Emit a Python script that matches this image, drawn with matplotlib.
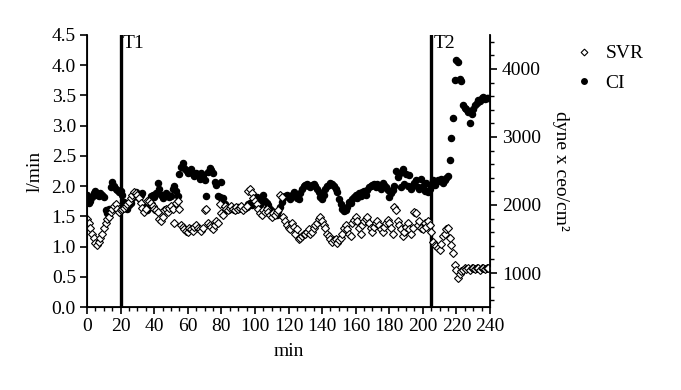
import numpy as np
import matplotlib.pyplot as plt

plt.rcParams['font.family'] = ['Liberation Serif', 'DejaVu Serif']

# sampling time (min), one reading per minute
minutes = np.arange(0, 240)

# cardiac index, l/min (left axis)
ci = [
    1.85, 1.72, 1.76, 1.82, 1.88, 1.92, 1.86, 1.84, 1.88, 1.85,
    1.82, 1.60, 1.56, 1.62, 1.98, 2.07, 2.00, 1.96, 1.93, 1.90,
    1.92, 1.86, 1.74, 1.66, 1.62, 1.68, 1.72, 1.80, 1.86, 1.90,
    1.84, 1.80, 1.86, 1.88, 1.70, 1.62, 1.60, 1.66, 1.84, 1.86,
    1.82, 1.88, 2.05, 1.96, 1.86, 1.80, 1.84, 1.88, 1.86, 1.82,
    1.84, 1.96, 2.00, 1.92, 1.84, 2.20, 2.32, 2.38, 2.30, 2.26,
    2.22, 2.25, 2.28, 2.20, 2.16, 2.22, 2.18, 2.12, 2.22, 2.18,
    2.10, 1.84, 2.24, 2.30, 2.26, 2.22, 2.06, 2.02, 1.84, 1.82,
    2.06, 1.80, 1.70, 1.64, 1.60, 1.62, 1.65, 1.63, 1.60, 1.62,
    1.65, 1.63, 1.66, 1.62, 1.64, 1.66, 1.70, 1.72, 1.68, 1.74,
    1.78, 1.82, 1.76, 1.70, 1.80, 1.85, 1.76, 1.72, 1.68, 1.62,
    1.58, 1.54, 1.55, 1.52, 1.58, 1.66, 1.74, 1.80, 1.84, 1.86,
    1.82, 1.78, 1.86, 1.90, 1.84, 1.80, 1.78, 1.88, 1.95, 2.00,
    2.02, 2.04, 2.00, 1.98, 2.02, 2.03, 2.00, 1.96, 1.90, 1.82,
    1.78, 1.86, 1.95, 2.00, 2.02, 2.05, 2.03, 2.00, 1.96, 1.90,
    1.78, 1.70, 1.62, 1.58, 1.60, 1.66, 1.74, 1.72, 1.78, 1.82,
    1.85, 1.80, 1.88, 1.84, 1.90, 1.92, 1.86, 1.94, 1.98, 2.00,
    2.02, 2.04, 1.98, 2.03, 2.00, 1.96, 2.05, 2.02, 1.98, 1.94,
    1.82, 1.88, 1.94, 2.00, 2.25, 2.15, 2.20, 1.98, 2.28, 2.04,
    2.20, 2.00, 2.18, 1.96, 2.02, 2.05, 2.10, 1.98, 1.95, 2.12,
    2.00, 1.92, 2.05, 1.90, 1.95, 2.02, 2.10, 2.02, 2.06, 2.10,
    2.08, 2.12, 2.05, 2.10, 2.14, 2.16, 2.43, 2.80, 3.13, 3.75,
    4.08, 4.05, 3.78, 3.74, 3.35, 3.30, 3.28, 3.22, 3.05, 3.20,
    3.28, 3.35, 3.38, 3.42, 3.40, 3.45, 3.48, 3.44, 3.46, 3.45,
]

# systemic vascular resistance, dyne x ceo/cm2 (right axis)
svr = [
    1790, 1730, 1660, 1580, 1510, 1440, 1410, 1460, 1520, 1580,
    1660, 1730, 1790, 1830, 1890, 1940, 1980, 2010, 1940, 1900,
    1920, 1940, 1960, 1980, 2010, 2050, 2100, 2150, 2190, 2170,
    2140, 2100, 2030, 1960, 1900, 1940, 2060, 2060, 2030, 1990,
    1940, 1920, 1900, 1790, 1760, 1820, 1920, 1940, 1900, 1960,
    1980, 1940, 1740, 2030, 2060, 1940, 1710, 1670, 1640, 1620,
    1610, 1660, 1640, 1620, 1670, 1700, 1660, 1640, 1620, 1660,
    1920, 1940, 1740, 1710, 1670, 1640, 1710, 1760, 1730, 2010,
    1880, 1850, 1980, 1940, 1920, 1960, 1980, 1940, 1920, 1970,
    1940, 1960, 1980, 1920, 1960, 1990, 2210, 2240, 2170, 2100,
    2060, 2010, 1940, 1880, 1850, 1920, 1900, 1940, 1890, 1850,
    1830, 1880, 1850, 1890, 1920, 2140, 2120, 1820, 1760, 1700,
    1660, 1640, 1730, 1670, 1570, 1640, 1500, 1520, 1550, 1570,
    1580, 1610, 1640, 1570, 1600, 1660, 1700, 1740, 1790, 1820,
    1760, 1710, 1660, 1580, 1550, 1500, 1460, 1480, 1500, 1440,
    1480, 1510, 1570, 1660, 1710, 1640, 1580, 1550, 1740, 1780,
    1820, 1760, 1660, 1580, 1700, 1760, 1800, 1830, 1730, 1660,
    1610, 1670, 1730, 1760, 1700, 1640, 1600, 1670, 1740, 1780,
    1730, 1660, 1580, 1970, 1920, 1760, 1700, 1640, 1550, 1610,
    1670, 1740, 1640, 1570, 1660, 1900, 1880, 1700, 1760, 1660,
    1640, 1730, 1670, 1760, 1700, 1610, 1460, 1410, 1390, 1370,
    1340, 1430, 1550, 1580, 1640, 1660, 1520, 1410, 1300, 1120,
    1050, 930, 990, 1030, 1050, 1070, 1060, 1070, 1050, 1080,
    1070, 1060, 1080, 1070, 1050, 1070, 1080, 1060, 1070, 1070,
]

# time points marked on the chart
events = [20, 205]
event_labels = ['T1', 'T2']

fig = plt.figure(figsize=(6.81, 3.90), dpi=100)
ax = fig.add_axes([0.1278, 0.2128, 0.5917, 0.6975])
ax2 = ax.twinx()

# CI on left axis, SVR on right axis
ci_line, = ax.plot(minutes, ci, 'o', color='black', ms=4.4, mec='black', label='CI')
svr_line, = ax2.plot(minutes, svr, 'D', mfc='white', mec='black', mew=0.8,
                     ms=3.8, label='SVR')

for t, lab in zip(events, event_labels):
    ax.axvline(t, color='black', lw=2.4, zorder=5)
    ax.text(t + 1.5, 4.5, lab, va='top', ha='left', fontsize=14)

ax.set_xlim(0, 240)
ax.set_ylim(0, 4.5)
ax2.set_ylim(500, 4500)

ax.set_xticks(range(0, 241, 20))
ax.set_xticks(range(0, 241, 5), minor=True)
ax.set_yticks(np.arange(0, 4.51, 0.5))
ax.set_yticklabels(['%.1f' % v for v in np.arange(0, 4.51, 0.5)])
ax2.set_yticks([1000, 2000, 3000, 4000])
ax2.set_yticks(range(600, 4500, 200), minor=True)

ax.tick_params(axis='both', which='major', labelsize=14, length=5, width=1.2,
               direction='out', pad=3)
ax.tick_params(axis='x', which='minor', length=3, width=1.0)
ax2.tick_params(axis='y', which='major', labelsize=14, length=5, width=1.2)
ax2.tick_params(axis='y', which='minor', length=3, width=1.0)

ax.spines['top'].set_visible(False)
ax2.spines['top'].set_visible(False)
for s in ['left', 'bottom']:
    ax.spines[s].set_linewidth(1.3)
ax2.spines['right'].set_linewidth(1.3)

ax.set_xlabel('min', fontsize=14, labelpad=6)
ax.set_ylabel('l/min', fontsize=14, labelpad=6)
ax2.set_ylabel('dyne x ceo/cm\u00b2', fontsize=14, rotation=270, labelpad=20)

fig.legend([svr_line, ci_line], ['SVR', 'CI'], loc='upper left',
           bbox_to_anchor=(0.815, 0.93), frameon=False, fontsize=14,
           handletextpad=0.5, labelspacing=0.6, handlelength=1.2,
           markerscale=0.9)

fig.savefig('out.png', dpi=100)
